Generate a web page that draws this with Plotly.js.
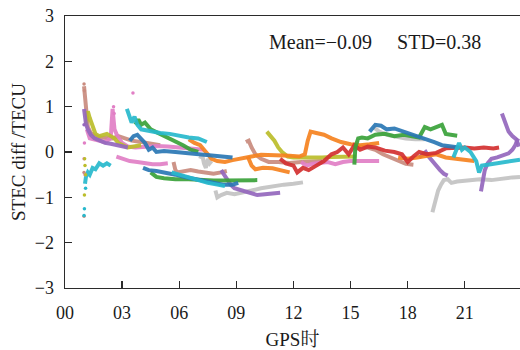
<!DOCTYPE html>
<html>
<head>
<meta charset="utf-8">
<script src="https://cdn.plot.ly/plotly-3.0.1.min.js"></script>
<style>html,body{margin:0;padding:0;background:#fff;}#chart{width:520px;height:350px;}</style>
</head>
<body>
<div id="chart"></div>
<script>
// ---- tick labels ----
const xTickVals = [0, 3, 6, 9, 12, 15, 18, 21];
const xTickText = ['00', '03', '06', '09', '12', '15', '18', '21'];
const yTickVals = [-3, -2, -1, 0, 1, 2, 3];
const statsText = 'Mean=\u22120.09\u2003 STD=0.38';

// ---- arcs (GPS hour, STEC diff TECU) ----
const cyan1X = [1.05,1.1,1.2,1.3,1.45,1.6,1.8,2.0,2.2,2.4];
const cyan1Y = [-0.7,-0.55,-0.45,-0.5,-0.35,-0.38,-0.25,-0.3,-0.25,-0.3];
const cyan2X = [3.25,3.4,3.5,3.65,3.8,4.0,4.5,5.0,5.5,6.0,6.5,7.0,7.45];
const cyan2Y = [0.95,0.75,0.65,0.78,0.6,0.5,0.45,0.42,0.4,0.35,0.32,0.3,0.22];
const cyan3X = [5.6,6.0,6.5,7.0,7.5,8.0,8.4];
const cyan3Y = [-0.45,-0.5,-0.55,-0.62,-0.68,-0.72,-0.75];
const cyan4X = [20.4,20.55,20.7,20.85,21.0,21.3,21.6,21.75,21.9,22.2,22.6,23.0,23.5,23.9];
const cyan4Y = [-0.12,0.05,0.2,0.05,0.1,0.0,-0.2,-0.45,-0.3,-0.28,-0.25,-0.24,-0.2,-0.17];

const blue1X = [3.4,3.6,3.8,4.0,4.2,4.4,4.6,4.8,5.2,5.8,6.4,7.0,7.6,8.2,8.8];
const blue1Y = [0.25,0.35,0.38,0.3,0.2,0.05,0.1,0.0,0.02,0.0,-0.02,-0.05,-0.08,-0.1,-0.12];
const blue2X = [4.1,4.4,4.8,5.3,5.8,6.3,6.8,7.3,7.8,8.3,8.8,9.1];
const blue2Y = [-0.35,-0.4,-0.42,-0.45,-0.5,-0.55,-0.6,-0.64,-0.68,-0.72,-0.72,-0.68];
const blue3X = [16.0,16.3,16.6,16.9,17.3,17.8,18.2,18.6,19.0,19.4,19.8,20.2,20.7];
const blue3Y = [0.45,0.6,0.58,0.5,0.52,0.45,0.4,0.35,0.28,0.22,0.15,0.12,0.1];

const green1X = [3.7,3.85,4.0,4.2,4.5,4.9,5.3,5.7,6.2,6.6,7.0];
const green1Y = [0.6,0.72,0.6,0.65,0.5,0.42,0.32,0.25,0.15,0.05,0.0];
const green2X = [4.5,4.8,5.2,5.8,6.5,7.2,7.8,8.4,9.0,9.6,10.1];
const green2Y = [-0.45,-0.55,-0.58,-0.6,-0.6,-0.62,-0.63,-0.63,-0.63,-0.62,-0.62];
const green3X = [15.2,15.25,15.4,15.6,15.9,16.3,16.8,17.3,17.8,18.2,18.6,18.9,19.2,19.5,19.8,20.0,20.3,20.6];
const green3Y = [-0.28,0.1,0.3,0.32,0.3,0.38,0.4,0.35,0.38,0.35,0.32,0.55,0.5,0.55,0.6,0.4,0.38,0.36];

const red1X = [11.3,11.6,12.0,12.2,12.5,12.8,13.2,13.6,14.0,14.3,14.6,14.9,15.2,15.5,15.9,16.3,16.8,17.3,17.7,18.0,18.3,18.6,19.0,19.5,20.0,20.5,21.0,21.5,22.0,22.5,22.8];
const red1Y = [-0.15,-0.25,-0.3,-0.45,-0.35,-0.4,-0.3,-0.2,-0.05,0.0,0.1,-0.05,0.15,0.05,0.12,0.1,0.03,0.0,-0.05,-0.22,-0.1,0.0,-0.05,-0.02,0.08,0.1,0.1,0.08,0.1,0.08,0.1];

const orange1X = [6.5,6.8,7.1,7.4,7.7,8.0,8.4,8.8,9.3,9.8,10.3,10.8,11.3,11.8,12.3,12.6,12.75,12.9,13.2,13.6,14.0,14.5,15.0,15.5,16.0,16.5];
const orange1Y = [0.28,0.2,0.15,0.0,-0.15,-0.2,-0.22,-0.18,-0.15,-0.1,-0.06,-0.06,-0.06,-0.08,-0.1,-0.05,0.25,0.45,0.42,0.38,0.3,0.22,0.17,0.15,0.17,0.2];
const orange2X = [9.6,9.8,10.0,10.4,10.9,11.4,11.8];
const orange2Y = [-0.1,-0.3,-0.38,-0.35,-0.36,-0.4,-0.45];
const orange3X = [17.5,18.0,18.5,19.0,19.5,20.0,20.5,21.0,21.5];
const orange3Y = [-0.12,-0.15,-0.12,-0.08,-0.05,-0.12,-0.15,-0.18,-0.2];

const olive1X = [1.1,1.2,1.3,1.45,1.6,1.8,2.0,2.2,2.4,2.6,2.8,3.0,3.3,3.6,4.0];
const olive1Y = [0.6,0.9,0.75,0.55,0.4,0.35,0.38,0.4,0.35,0.3,0.2,0.15,0.1,0.12,0.15];
const olive2X = [10.6,10.8,11.0,11.2,11.4,11.7,12.0,12.5,13.0,13.5,14.0,14.5,15.0,15.3];
const olive2Y = [0.45,0.35,0.25,0.1,0.0,-0.1,-0.12,-0.12,-0.13,-0.12,-0.11,-0.11,-0.1,-0.1];

const pink1X = [1.15,1.3,1.5,1.8,2.1,2.4,2.5,2.6,2.75,3.0,3.3,3.7,4.2,4.8,5.4,6.0,6.6,7.3];
const pink1Y = [0.5,0.3,0.28,0.25,0.22,0.3,0.95,0.5,0.35,0.2,0.12,0.1,0.12,0.13,0.12,0.1,0.08,0.05];
const pink2X = [2.7,3.0,3.4,3.8,4.2,4.6,5.0,5.4];
const pink2Y = [-0.1,-0.15,-0.2,-0.22,-0.25,-0.27,-0.27,-0.25];
const pink3X = [12.4,12.7,13.0,13.4,13.8,14.2,14.6,15.0,15.4,15.8,16.2,16.5];
const pink3Y = [-0.22,-0.3,-0.26,-0.24,-0.22,-0.27,-0.22,-0.2,-0.2,-0.22,-0.2,-0.2];

const purple1X = [1.0,1.05,1.1,1.2,1.35,1.55,1.8,2.1,2.4,2.7,3.0,3.3];
const purple1Y = [0.95,0.8,0.62,0.5,0.38,0.3,0.25,0.2,0.18,0.15,0.12,0.1];
const purple2X = [8.2,8.35,8.5,8.7,8.9,9.3,9.7,10.1,10.5,10.9,11.3];
const purple2Y = [-0.4,-0.5,-0.6,-0.72,-0.8,-0.85,-0.9,-0.95,-0.93,-0.92,-0.9];
const purple3X = [18.6,18.8,18.95,19.1,19.3,19.5,19.7,19.9,20.1];
const purple3Y = [-0.12,-0.05,0.0,-0.1,-0.2,-0.32,-0.4,-0.48,-0.52];
const purple4X = [21.85,21.95,22.05,22.2,22.4,22.7,23.0,23.3,23.5,23.65,23.8];
const purple4Y = [-0.87,-0.65,-0.4,-0.25,-0.15,-0.12,-0.08,-0.03,0.05,0.15,0.3];
const purple5X = [22.95,23.1,23.3,23.5,23.7,23.85];
const purple5Y = [0.85,0.65,0.45,0.35,0.28,0.12];

const gray1X = [7.1,7.2,7.3,7.4,7.5,7.6,7.7];
const gray1Y = [-0.15,-0.05,-0.25,-0.35,-0.15,-0.25,-0.2];
const gray2X = [7.9,8.0,8.2,8.5,8.9,9.3,9.8,10.3,10.9,11.5,12.0,12.5];
const gray2Y = [-0.85,-1.0,-0.95,-0.9,-0.93,-0.9,-0.85,-0.8,-0.75,-0.72,-0.7,-0.67];
const gray3X = [16.2,16.5,16.9,17.4,17.9,18.4,18.9];
const gray3Y = [0.55,0.45,0.38,0.33,0.3,0.28,0.28];
const gray4X = [19.3,19.45,19.6,19.75,19.9,20.1,20.3,20.6,21.2,21.8,22.4,23.0,23.5,23.9];
const gray4Y = [-1.33,-1.05,-0.85,-0.72,-0.62,-0.6,-0.68,-0.65,-0.63,-0.6,-0.62,-0.58,-0.56,-0.55];

const brown1X = [1.0,1.05,1.12,1.2,1.35,1.6,1.9,2.2,2.5,2.8,3.1,3.5,4.0,4.5,5.0];
const brown1Y = [1.45,1.2,0.8,0.55,0.42,0.35,0.32,0.3,0.3,0.35,0.3,0.25,0.22,0.18,0.15];
const brown2X = [5.7,5.8,5.9,6.2,6.6,7.0,7.4,7.8,8.2,8.5];
const brown2Y = [-0.22,-0.4,-0.45,-0.42,-0.4,-0.43,-0.45,-0.48,-0.45,-0.42];
const brown3X = [9.5,9.65,9.8,10.0,10.3,10.7,11.2,11.8,12.4,13.0,13.5];
const brown3Y = [0.22,0.25,0.1,-0.05,-0.15,-0.22,-0.22,-0.24,-0.22,-0.22,-0.2];
const brown4X = [15.2,15.5,15.9,16.3,16.7,17.1,17.5,17.9,18.3];
const brown4Y = [0.05,0.12,0.1,0.05,-0.05,-0.12,-0.2,-0.26,-0.28];

// scattered single points
const dotsX = [1.0,1.02,1.0,1.0, 3.57,2.55,2.58,1.02,1.0,1.05, 1.02,1.05,1.08,1.03, 1.02,1.0,1.08, 1.0];
const dotsY = [1.5,1.35,-1.42,-0.45, 1.3,1.0,0.85,0.2,-0.15,-0.5, -0.95,-0.3,-0.5,-0.15, -1.25,-1.4,-0.8, 0.6];
const dotsC = ['brown','brown','brown','brown','pink','pink','pink','pink','pink','pink','olive','olive','olive','olive','cyan','cyan','cyan','purple'];

const palette = {
  blue: '#2a77b4', orange: '#f5821f', green: '#3aa23a', red: '#d33030', purple: '#9467bd',
  brown: '#c98b7e', pink: '#e17fc5', gray: '#c2c2c2', olive: '#bbbd2a', cyan: '#27b8cc'
};

const arcs = [
  ['gray', gray1X, gray1Y], ['gray', gray2X, gray2Y], ['gray', gray3X, gray3Y], ['gray', gray4X, gray4Y],
  ['brown', brown1X, brown1Y], ['brown', brown2X, brown2Y], ['brown', brown3X, brown3Y], ['brown', brown4X, brown4Y],
  ['pink', pink1X, pink1Y], ['pink', pink2X, pink2Y], ['pink', pink3X, pink3Y],
  ['olive', olive1X, olive1Y], ['olive', olive2X, olive2Y],
  ['purple', purple1X, purple1Y], ['purple', purple2X, purple2Y], ['purple', purple3X, purple3Y], ['purple', purple4X, purple4Y], ['purple', purple5X, purple5Y],
  ['orange', orange1X, orange1Y], ['orange', orange2X, orange2Y], ['orange', orange3X, orange3Y],
  ['red', red1X, red1Y],
  ['green', green1X, green1Y], ['green', green2X, green2Y], ['green', green3X, green3Y],
  ['blue', blue1X, blue1Y], ['blue', blue2X, blue2Y], ['blue', blue3X, blue3Y],
  ['cyan', cyan1X, cyan1Y], ['cyan', cyan2X, cyan2Y], ['cyan', cyan3X, cyan3Y], ['cyan', cyan4X, cyan4Y]
];

const traces = arcs.map(([c, x, y]) => ({
  type: 'scatter', mode: 'lines', x: x, y: y,
  line: {color: palette[c], width: 4}, opacity: 0.92, hoverinfo: 'skip'
}));
traces.push({
  type: 'scatter', mode: 'markers', x: dotsX, y: dotsY,
  marker: {color: dotsC.map(c => palette[c]), size: 3.5}, hoverinfo: 'skip'
});

const serif = 'Liberation Serif, Times New Roman, Noto Serif CJK SC, Noto Sans CJK SC, serif';
const axisColor = '#2b2b2b';

const layout = {
  width: 520, height: 350,
  margin: {l: 65, r: 0, t: 16, b: 62},
  paper_bgcolor: '#ffffff', plot_bgcolor: '#ffffff',
  showlegend: false,
  font: {family: serif, size: 18, color: '#1a1a1a'},
  xaxis: {
    range: [0, 23.9], tickmode: 'array', tickvals: xTickVals, ticktext: xTickText,
    ticks: 'inside', ticklen: 7, tickwidth: 1.3, tickcolor: axisColor,
    showline: true, linecolor: axisColor, linewidth: 1.4, mirror: true,
    showgrid: false, zeroline: false, ticklabelstandoff: 8,
    tickfont: {family: serif, size: 18, color: '#1a1a1a'},
    title: {text: 'GPS时', font: {family: serif, size: 19, color: '#1a1a1a'}, standoff: 10}
  },
  yaxis: {
    range: [-3, 3], tickmode: 'array', tickvals: yTickVals,
    ticks: 'inside', ticklen: 7, tickwidth: 1.3, tickcolor: axisColor,
    showline: true, linecolor: axisColor, linewidth: 1.4, mirror: false,
    showgrid: false, zeroline: false, ticklabelstandoff: 6,
    tickfont: {family: serif, size: 18, color: '#1a1a1a'},
    title: {text: 'STEC diff /TECU', font: {family: serif, size: 19, color: '#1a1a1a'}, standoff: 4}
  },
  annotations: [{
    xref: 'x', yref: 'y', x: 16.3, y: 2.42, text: statsText, showarrow: false,
    font: {family: serif, size: 20, color: '#1a1a1a'}, xanchor: 'center', yanchor: 'middle'
  }]
};

Plotly.newPlot('chart', traces, layout, {staticPlot: true, displayModeBar: false});
</script>
</body>
</html>
